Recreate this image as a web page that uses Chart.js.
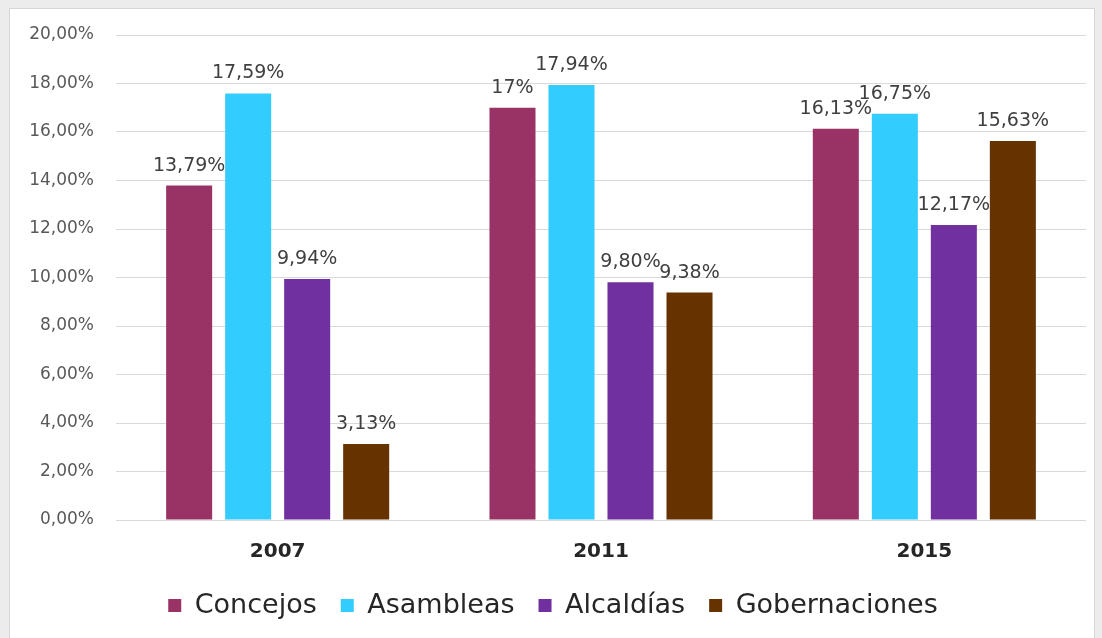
<!doctype html>
<html lang="es">
  <head>
    <meta charset="UTF-8" />
    <title>Participación por elección</title>
    <script src="https://cdn.jsdelivr.net/npm/chart.js"></script>
    <style>
      html, body { margin: 0; padding: 0; background: #ececec; }
      body { width: 1102px; height: 638px; position: relative; overflow: hidden; }
      #panel {
        position: absolute; left: 9px; top: 8px; width: 1086px; height: 634px;
        background: #fff; border: 1px solid #d6d6d6; box-sizing: border-box;
      }
      #wrap { position: absolute; left: 0; top: 0; width: 1084px; height: 632px; }
    </style>
  </head>
  <body>
    <div id="panel"><div id="wrap"><canvas id="chart"></canvas></div></div>
    <script>
      const years = ['2007', '2011', '2015'];
      const concejos = [13.79, 17, 16.13];
      const asambleas = [17.59, 17.94, 16.75];
      const alcaldias = [9.94, 9.80, 12.17];
      const gobernaciones = [3.13, 9.38, 15.63];
      const yTicks = [0, 2, 4, 6, 8, 10, 12, 14, 16, 18, 20];

      const FONT = "'DejaVu Sans', sans-serif";

      // show values the way the source does: comma decimals, "17%" for round numbers
      function fmt(v) {
        if (Number.isInteger(v)) return v + '%';
        return v.toFixed(2).replace('.', ',') + '%';
      }

      const barLabels = {
        id: 'barLabels',
        afterDatasetsDraw(chart) {
          const ctx = chart.ctx;
          ctx.save();
          ctx.font = '19px ' + FONT;
          ctx.fillStyle = '#404040';
          ctx.textAlign = 'center';
          ctx.textBaseline = 'alphabetic';
          chart.data.datasets.forEach((ds, i) => {
            chart.getDatasetMeta(i).data.forEach((bar, j) => {
              ctx.fillText(fmt(ds.data[j]), bar.x, bar.y - 15);
            });
          });
          ctx.restore();
        }
      };

      new Chart(document.getElementById('chart'), {
        type: 'bar',
        data: {
          labels: years,
          datasets: [
            { label: 'Concejos', data: concejos, backgroundColor: '#993366' },
            { label: 'Asambleas', data: asambleas, backgroundColor: '#33CCFF' },
            { label: 'Alcaldías', data: alcaldias, backgroundColor: '#7030A0' },
            { label: 'Gobernaciones', data: gobernaciones, backgroundColor: '#663300' }
          ]
        },
        options: {
          responsive: true,
          maintainAspectRatio: false,
          animation: false,
          categoryPercentage: 0.73,
          barPercentage: 0.78,
          layout: { padding: { left: 10, right: 8, top: 26, bottom: 12 } },
          plugins: {
            tooltip: { enabled: false },
            legend: {
              position: 'bottom',
              labels: {
                boxWidth: 13,
                boxHeight: 13,
                padding: 24,
                color: '#262626',
                font: { family: FONT, size: 27 }
              }
            }
          },
          scales: {
            x: {
              grid: { display: false },
              border: { display: false },
              ticks: {
                padding: 12,
                color: '#262626',
                font: { family: FONT, size: 20, weight: 'bold' }
              },
              afterFit(scale) { scale.height = 48; }
            },
            y: {
              min: 0,
              max: 20,
              afterBuildTicks(scale) { scale.ticks = yTicks.map(v => ({ value: v })); },
              // invisible tick marks give the gap between labels and gridlines
              grid: { color: '#d9d9d9', drawTicks: true, tickLength: 14, tickColor: 'rgba(0,0,0,0)' },
              border: { display: false },
              ticks: {
                padding: 8,
                color: '#595959',
                font: { family: FONT, size: 17 },
                callback: v => v.toFixed(2).replace('.', ',') + '%'
              },
              afterFit(scale) { scale.width = 96; }
            }
          }
        },
        plugins: [barLabels]
      });
    </script>
  </body>
</html>
